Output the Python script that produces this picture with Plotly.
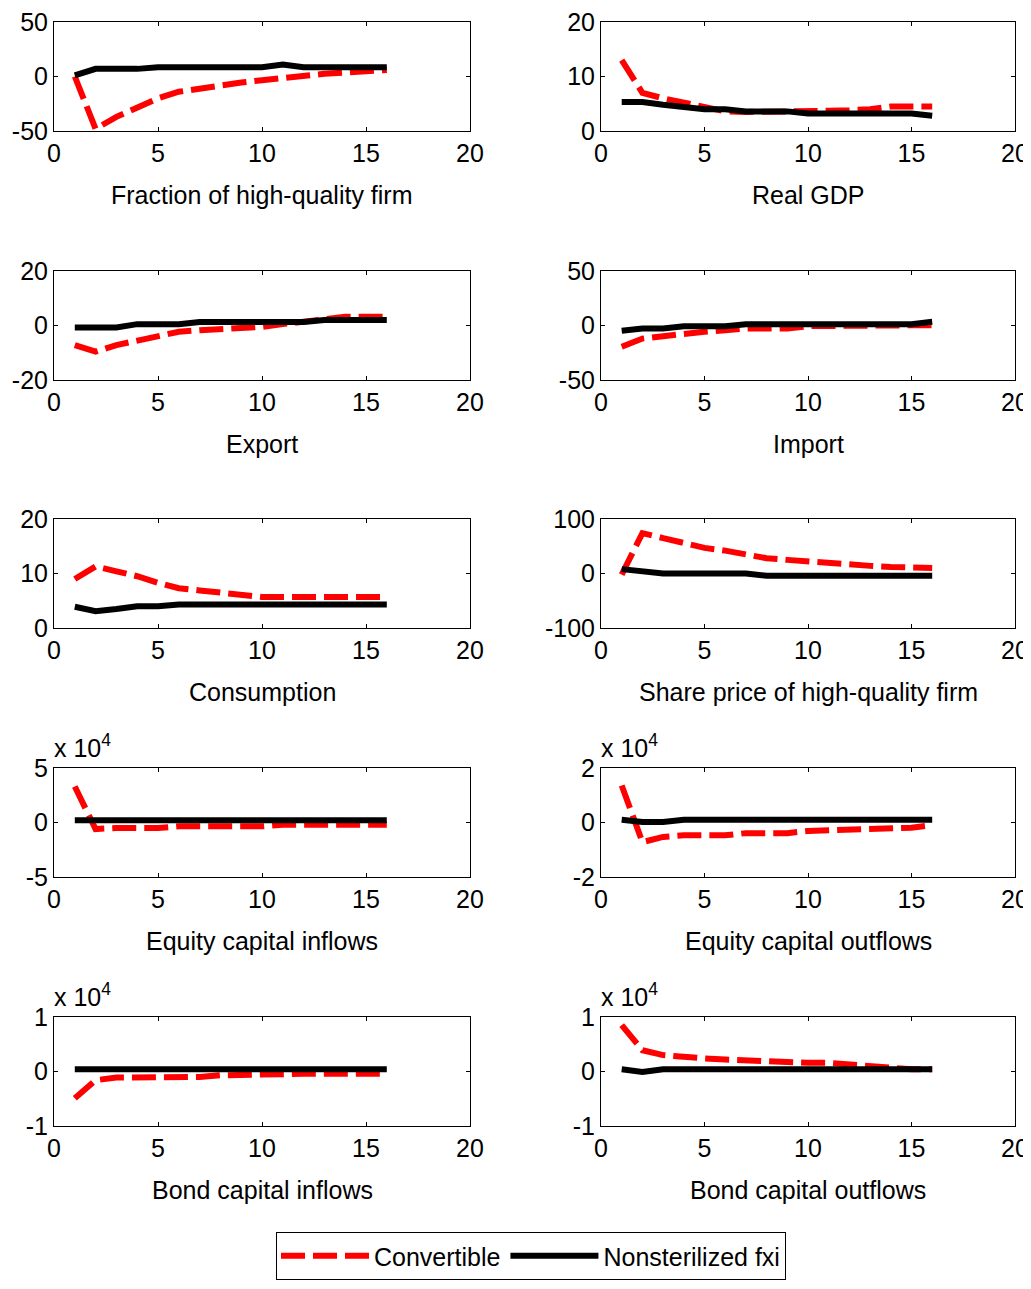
import plotly.graph_objects as go

PAGE_W, PAGE_H = 1031, 1289
OFF = 8  # default body margin of the html page
W, H = PAGE_W - OFF, PAGE_H - 2 * OFF - 1
FONT = "Liberation Sans, Arial, sans-serif"

periods = list(range(1, 17))

titles = [
    "Fraction of high-quality firm", "Real GDP",
    "Export", "Import",
    "Consumption", "Share price of high-quality firm",
    "Equity capital inflows", "Equity capital outflows",
    "Bond capital inflows", "Bond capital outflows",
]

# Convertible (red dashed)
conv_fraction = [0, -48, -37, -28, -20, -14, -11, -8, -5.5, -3.5, -1.5, 1.5, 2.5, 3.5, 5, 6]
conv_gdp = [13, 7, 6, 5.2, 4.4, 3.6, 3.5, 3.5, 3.5, 3.6, 3.7, 3.8, 4, 4.5, 4.5, 4.5]
conv_export = [-7.2, -9.6, -7.2, -5.4, -3.9, -2.3, -1.7, -1.3, -0.9, -0.5, 0.5, 1.3, 2, 3.2, 3.2, 3.2]
conv_import = [-19.5, -12, -9.8, -7.3, -5.8, -4.3, -2.7, -2.7, -2.7, -0.6, -0.3, 0, 0, 0.2, 0.3, 0.3]
conv_consumption = [9, 11.3, 10.4, 9.5, 8.3, 7.3, 6.9, 6.5, 6.1, 5.7, 5.7, 5.7, 5.7, 5.7, 5.7, 5.7]
conv_share_price = [-2, 74, 65, 56, 47, 42, 35, 28, 25, 22, 18, 16, 14, 12, 10, 10]
conv_equity_in = [3.3, -0.6, -0.5, -0.5, -0.5, -0.35, -0.35, -0.35, -0.35, -0.35, -0.2, -0.2, -0.2, -0.2, -0.2, -0.2]
conv_equity_out = [1.36, -0.72, -0.53, -0.47, -0.47, -0.47, -0.39, -0.39, -0.39, -0.31, -0.29, -0.26, -0.26, -0.23, -0.19, -0.1]
conv_bond_in = [-0.49, -0.16, -0.11, -0.11, -0.1, -0.1, -0.1, -0.07, -0.07, -0.07, -0.05, -0.04, -0.04, -0.04, -0.04, -0.04]
conv_bond_out = [0.85, 0.39, 0.3, 0.26, 0.24, 0.22, 0.2, 0.2, 0.18, 0.16, 0.16, 0.13, 0.1, 0.05, 0.04, 0.04]

# Nonsterilized fxi (black solid)
fxi_fraction = [1, 7, 7, 7, 8.5, 8.5, 8.5, 8.5, 8.5, 8.5, 11, 8.5, 8.5, 8.5, 8.5, 8.5]
fxi_gdp = [5.3, 5.3, 4.8, 4.4, 4, 4, 3.6, 3.6, 3.6, 3.2, 3.2, 3.2, 3.2, 3.2, 3.2, 2.8]
fxi_export = [-0.7, -0.7, -0.7, 0.5, 0.5, 0.5, 1.3, 1.3, 1.3, 1.3, 1.3, 1.3, 2, 2, 2, 2]
fxi_import = [-4.9, -2.7, -2.7, -0.6, -0.6, -0.6, 1.2, 1.2, 1.2, 1.2, 1.2, 1.2, 1.2, 1.2, 1.2, 3.4]
fxi_consumption = [3.9, 3.1, 3.5, 4, 4, 4.3, 4.3, 4.3, 4.3, 4.3, 4.3, 4.3, 4.3, 4.3, 4.3, 4.3]
fxi_share_price = [8, 4, 0, 0, 0, 0, 0, -4, -4, -4, -4, -4, -4, -4, -4, -4]
fxi_equity_in = [0.2] * 16
fxi_equity_out = [0.1, 0.02, 0.02, 0.1, 0.1, 0.1, 0.1, 0.1, 0.1, 0.1, 0.1, 0.1, 0.1, 0.1, 0.1, 0.1]
fxi_bond_in = [0.04] * 16
fxi_bond_out = [0.04, -0.01, 0.04, 0.04, 0.04, 0.04, 0.04, 0.04, 0.04, 0.04, 0.04, 0.04, 0.04, 0.04, 0.04, 0.04]

conv_series = [conv_fraction, conv_gdp, conv_export, conv_import, conv_consumption,
               conv_share_price, conv_equity_in, conv_equity_out, conv_bond_in, conv_bond_out]
fxi_series = [fxi_fraction, fxi_gdp, fxi_export, fxi_import, fxi_consumption,
              fxi_share_price, fxi_equity_in, fxi_equity_out, fxi_bond_in, fxi_bond_out]

y_ranges = [[-50, 50], [0, 20], [-20, 20], [-50, 50], [0, 20],
            [-100, 100], [-5, 5], [-2, 2], [-1, 1], [-1, 1]]
scaled_1e4 = [False] * 6 + [True] * 4
x_ticks = [0, 5, 10, 15, 20]


def fmt(v):
    v = int(v) if float(v).is_integer() else v
    return str(v)  # plain hyphen-minus like the reference


def px_x(p):  # page pixel -> paper fraction
    return (p - OFF) / W


def px_y(p):
    return 1 - (p - OFF) / H


# layout geometry (page pixels)
col_px = [(54, 470), (601, 1015)]
row_top_px = [22, 271, 519, 768, 1017]
row_h = 109

fig = go.Figure()
annotations = []
layout_axes = {}

for i in range(10):
    r, c = divmod(i, 2)
    x0, x1 = col_px[c]
    top = row_top_px[r]
    bot = top + row_h
    xd = [px_x(x0), px_x(x1)]
    yd = [px_y(bot), px_y(top)]
    n = "" if i == 0 else str(i + 1)
    xa, ya = "x" + n, "y" + n

    fig.add_trace(go.Scatter(
        x=periods, y=conv_series[i], xaxis=xa, yaxis=ya, mode="lines",
        line=dict(color="#FF0000", width=6, dash="24px,8px"),
        name="Convertible", legendgroup="conv", showlegend=(i == 0)))
    fig.add_trace(go.Scatter(
        x=periods, y=fxi_series[i], xaxis=xa, yaxis=ya, mode="lines",
        line=dict(color="#000000", width=6),
        name="Nonsterilized fxi", legendgroup="fxi", showlegend=(i == 0)))

    lo, hi = y_ranges[i]
    yt = [lo, (lo + hi) / 2, hi]
    axcommon = dict(showline=True, linecolor="black", linewidth=1, mirror="ticks",
                    ticks="inside", ticklen=4, tickcolor="black", showgrid=False,
                    zeroline=False, automargin=False, ticklabeloverflow="allow",
                    tickfont=dict(family=FONT, size=25, color="black"))
    layout_axes["xaxis" + n] = dict(domain=xd, range=[0, 20], tickvals=x_ticks,
                                    ticktext=[fmt(v) for v in x_ticks],
                                    anchor=ya, **axcommon)
    layout_axes["yaxis" + n] = dict(domain=yd, range=[lo, hi],
                                    tickvals=yt, ticktext=[fmt(v) for v in yt],
                                    anchor=xa, **axcommon)

    annotations.append(dict(
        text=titles[i], xref="paper", yref="paper",
        x=px_x((x0 + x1) / 2), y=px_y(bot + 64),
        xanchor="center", yanchor="middle", showarrow=False,
        font=dict(family=FONT, size=25, color="black")))
    if scaled_1e4[i]:
        annotations.append(dict(
            text="x 10<sup>4</sup>", xref="paper", yref="paper",
            x=px_x(x0 - 2), y=px_y(top - 4),
            xanchor="left", yanchor="bottom", showarrow=False,
            font=dict(family=FONT, size=25, color="black")))

fig.update_layout(
    width=W, height=H,
    margin=dict(l=0, r=0, t=0, b=0, autoexpand=False),
    paper_bgcolor="white", plot_bgcolor="white",
    font=dict(family=FONT, size=25, color="black"),
    annotations=annotations,
    showlegend=True,
    legend=dict(orientation="h", x=px_x(276), y=px_y(1232),
                xanchor="left", yanchor="top",
                bordercolor="black", borderwidth=1, bgcolor="white",
                font=dict(family=FONT, size=25, color="black"),
                itemwidth=88),
    **layout_axes,
)

fig.write_html("out.html")
